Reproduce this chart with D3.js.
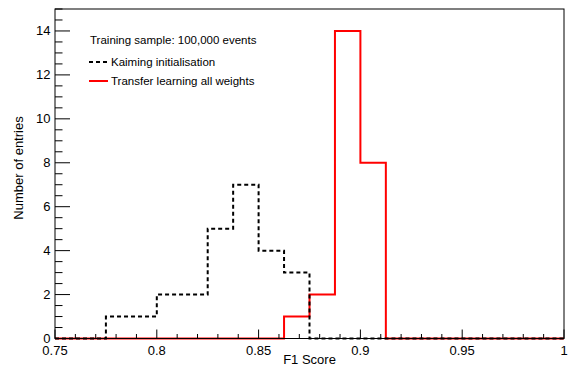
<!DOCTYPE html>
<html>
<head>
<meta charset="utf-8">
<script src="https://cdn.jsdelivr.net/npm/d3@7"></script>
<style>
  body { margin: 0; background: #fff; }
  svg { font-family: "Liberation Sans", Arial, sans-serif; }
</style>
</head>
<body>
<svg width="577" height="367"></svg>
<script>
// bin edges: 20 bins of 0.0125 from 0.75 to 1.0
var binLow = 0.75, binWidth = 0.0125;
var kaiming  = [0,0,1,1,2,2,5,7,4,3,0,0,0,0,0,0,0,0,0,0];
var transfer = [0,0,0,0,0,0,0,0,0,1,2,14,8,0,0,0,0,0,0,0];
var xTicks = [0.75, 0.8, 0.85, 0.9, 0.95, 1];
var yTicks = [0, 2, 4, 6, 8, 10, 12, 14];
var legendLabels = ["Kaiming initialisation", "Transfer learning all weights"];

var svg = d3.select("svg");
// frame edges (note: "top" is a reserved window property, so use frame*)
var frameL = 55, frameR = 564, frameT = 9, frameB = 338.5;

var x = d3.scaleLinear().domain([0.75, 1]).range([frameL, frameR]);
var y = d3.scaleLinear().domain([0, 15]).range([frameB, frameT]);

// histogram outline, ROOT style
function histPath(vals) {
  var pts = [[binLow, 0]];
  vals.forEach(function(v, i) {
    var lo = binLow + i * binWidth;
    pts.push([lo, v]);
    pts.push([lo + binWidth, v]);
  });
  pts.push([binLow + vals.length * binWidth, 0]);
  return d3.line().x(d => x(d[0])).y(d => y(d[1]))(pts);
}

svg.append("path")
  .attr("d", histPath(transfer))
  .attr("fill", "none")
  .attr("stroke", "#ff0000")
  .attr("stroke-width", 2);

svg.append("path")
  .attr("d", histPath(kaiming))
  .attr("fill", "none")
  .attr("stroke", "#000")
  .attr("stroke-width", 2)
  .attr("stroke-dasharray", "4,3");

// frame
svg.append("rect")
  .attr("x", frameL).attr("y", frameT)
  .attr("width", frameR - frameL).attr("height", frameB - frameT)
  .attr("fill", "none").attr("stroke", "#000").attr("stroke-width", 1);

// x ticks
var g = svg.append("g");
d3.range(0.75, 1.0001, 0.01).forEach(function(v) {
  var major = xTicks.some(t => Math.abs(t - v) < 1e-6);
  g.append("line")
    .attr("x1", x(v)).attr("x2", x(v))
    .attr("y1", frameB).attr("y2", frameB - (major ? 9 : 4.5))
    .attr("stroke", "#000");
});
g.selectAll(".xl").data(xTicks).enter().append("text")
  .attr("x", d => x(d)).attr("y", 355)
  .attr("text-anchor", "middle")
  .attr("font-size", 13)
  .text(d => d);

// y ticks
d3.range(0, 15.0001, 0.5).forEach(function(v) {
  var major = v % 2 === 0;
  g.append("line")
    .attr("x1", frameL).attr("x2", frameL + (major ? 15 : 7.5))
    .attr("y1", y(v)).attr("y2", y(v))
    .attr("stroke", "#000");
});
g.selectAll(".yl").data(yTicks).enter().append("text")
  .attr("x", 50.5).attr("y", d => y(d) + 4.5)
  .attr("text-anchor", "end")
  .attr("font-size", 13)
  .text(d => d);

// axis titles
svg.append("text")
  .attr("x", (frameL + frameR) / 2).attr("y", 364)
  .attr("text-anchor", "middle").attr("font-size", 13)
  .text("F1 Score");
svg.append("text")
  .attr("transform", "translate(23,168) rotate(-90)")
  .attr("text-anchor", "middle").attr("font-size", 13)
  .text("Number of entries");

// legend
var leg = svg.append("g").attr("font-size", 11.5);
leg.append("text").attr("x", 90).attr("y", 44).text("Training sample: 100,000 events");
leg.append("line").attr("x1", 89).attr("x2", 108).attr("y1", 62).attr("y2", 62)
  .attr("stroke", "#000").attr("stroke-width", 2).attr("stroke-dasharray", "4,3");
leg.append("text").attr("x", 111).attr("y", 66).text(legendLabels[0]);
leg.append("line").attr("x1", 89).attr("x2", 108).attr("y1", 81).attr("y2", 81)
  .attr("stroke", "#ff0000").attr("stroke-width", 2);
leg.append("text").attr("x", 111).attr("y", 85).text(legendLabels[1]);
</script>
</body>
</html>
